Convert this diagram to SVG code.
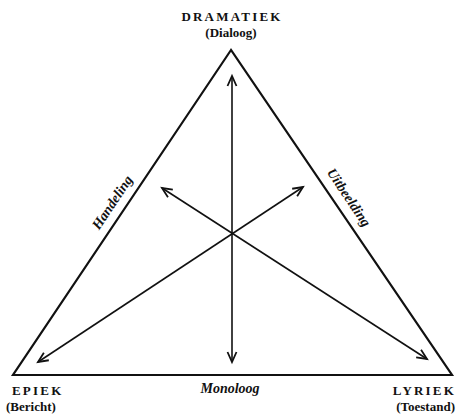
<svg xmlns="http://www.w3.org/2000/svg" width="456" height="418" viewBox="0 0 456 418">
<style>
.t{font-family:"Liberation Serif","DejaVu Serif",serif;fill:#111;font-weight:bold}
.caps{font-size:13px;letter-spacing:2.2px}
.sub{font-size:13px}
.it{font-size:14px;font-style:italic}
.edge{fill:none;stroke:#111;stroke-width:2.2;stroke-linejoin:miter}
.arr{fill:none;stroke:#111;stroke-width:1.6;marker-start:url(#ah);marker-end:url(#ah)}
</style>
<defs>
<marker id="ah" markerUnits="userSpaceOnUse" markerWidth="14" markerHeight="12" refX="11" refY="5" orient="auto-start-reverse" viewBox="0 0 14 10">
<path d="M1,0.5 L11,5 L1,9.5" fill="none" stroke="#111" stroke-width="1.8"/>
</marker>
</defs>
<g id="triangle">
<path class="edge" d="M231,50 L13,375 L452,375 Z"/>
</g>
<g id="connectors">
<line class="arr" x1="232" y1="362" x2="232" y2="76"/>
<line class="arr" x1="38" y1="362" x2="303" y2="187"/>
<line class="arr" x1="427" y1="359" x2="162" y2="188"/>
</g>
<g id="dramatiek">
<text class="t caps" x="232" y="21" text-anchor="middle">DRAMATIEK</text>
<text class="t sub" x="231" y="37" text-anchor="middle">(Dialoog)</text>
</g>
<g id="epiek">
<text class="t caps" x="12" y="395">EPIEK</text>
<text class="t sub" x="6" y="411">(Bericht)</text>
</g>
<g id="lyriek">
<text class="t caps" x="456" y="395" text-anchor="end">LYRIEK</text>
<text class="t sub" x="455" y="411" text-anchor="end">(Toestand)</text>
</g>
<g id="labels">
<text class="t it" x="230" y="393" text-anchor="middle">Monoloog</text>
<text class="t it" transform="translate(116,205) rotate(-56.2)" text-anchor="middle">Handeling</text>
<text class="t it" transform="translate(345,200) rotate(56.2)" text-anchor="middle">Uitbeelding</text>
</g>
</svg>
